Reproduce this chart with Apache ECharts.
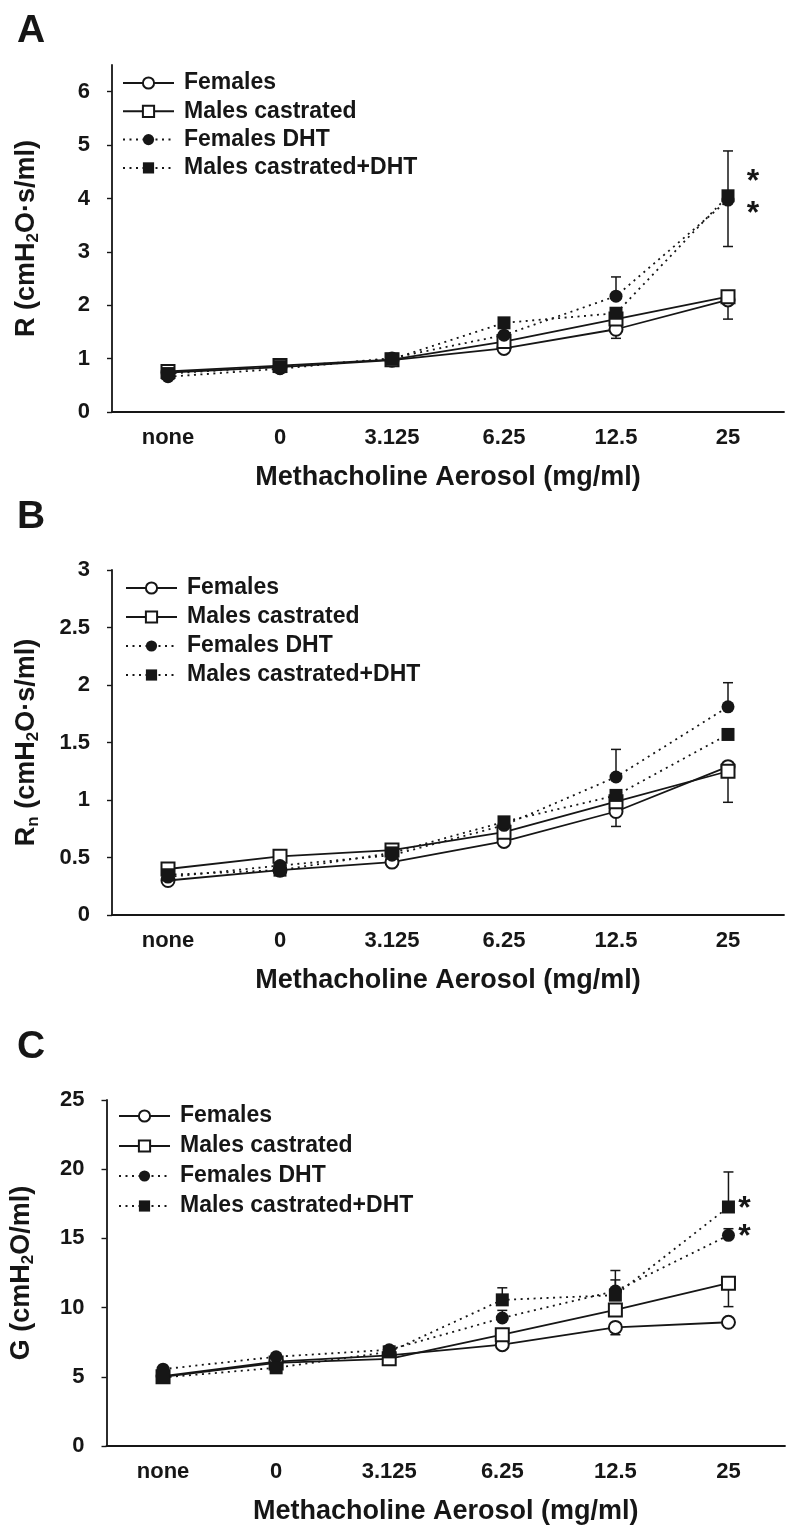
<!DOCTYPE html>
<html><head><meta charset="utf-8">
<script src="https://cdn.jsdelivr.net/npm/echarts@6/dist/echarts.min.js"></script>
<style>html,body{margin:0;padding:0;background:#fff}#c{width:800px;height:1537px}</style>
</head><body><div id="c"></div>
<script>
const categories = ['none', '0', '3.125', '6.25', '12.5', '25'];
const seriesNames = ['Females', 'Males castrated', 'Females DHT', 'Males castrated+DHT'];
const xAxisTitle = 'Methacholine Aerosol (mg/ml)';

// Panel A: R (cmH2O·s/ml)
const A_females = [0.74, 0.84, 0.97, 1.19, 1.55, 2.10];
const A_malesCastrated = [0.76, 0.87, 0.98, 1.32, 1.74, 2.16];
const A_femalesDHT = [0.66, 0.81, 1.01, 1.44, 2.17, 3.97];
const A_malesCastratedDHT = [0.72, 0.85, 0.99, 1.67, 1.85, 4.05];
const A_errorBars = [[4, 1.55, 1.38], [5, 2.16, 1.74], [4, 2.17, 2.53], [5, 4.05, 4.89], [5, 4.05, 3.10]];
const A_asterisks = [[5, 4.44], [5, 3.84]];
const A_yTicks = [0, 1, 2, 3, 4, 5, 6];

// Panel B: Rn (cmH2O·s/ml)
const B_females = [0.30, 0.39, 0.46, 0.64, 0.90, 1.29];
const B_malesCastrated = [0.40, 0.51, 0.565, 0.72, 0.985, 1.25];
const B_femalesDHT = [0.33, 0.43, 0.52, 0.78, 1.20, 1.81];
const B_malesCastratedDHT = [0.35, 0.39, 0.54, 0.81, 1.04, 1.57];
const B_errorBars = [[4, 0.90, 0.77], [4, 1.20, 1.44], [5, 1.81, 2.02], [5, 1.25, 0.98]];
const B_asterisks = [];
const B_yTicks = [0, 0.5, 1, 1.5, 2, 2.5, 3];

// Panel C: G (cmH2O/ml)
const C_females = [5.05, 6.10, 6.55, 7.32, 8.57, 8.94];
const C_malesCastrated = [5.00, 6.00, 6.30, 8.04, 9.83, 11.76];
const C_femalesDHT = [5.55, 6.45, 6.95, 9.25, 11.20, 15.22];
const C_malesCastratedDHT = [4.95, 5.65, 6.80, 10.56, 10.90, 17.27];
const C_errorBars = [[3, 10.56, 11.43], [3, 9.25, 9.80], [4, 11.20, 12.68], [4, 10.90, 12.00], [4, 8.57, 8.04], [5, 11.76, 10.07], [5, 15.22, 15.70], [5, 17.27, 19.80]];
const C_asterisks = [[5, 17.6], [5, 15.6]];
const C_yTicks = [0, 5, 10, 15, 20, 25];

const FONT = '"Liberation Sans", Arial, Helvetica, sans-serif';
const INK = '#161616';

const panels = [
  { label: 'A', yMax: 6.5, yInt: 1, ticks: A_yTicks,
    yName: '{a|R (cmH}{s|2}{a|O·s/ml)}',
    data: [A_females, A_malesCastrated, A_femalesDHT, A_malesCastratedDHT],
    err: A_errorBars, ast: A_asterisks, astDx: 25,
    grid: { left: 112, right: 16, top: 65, height: 347 },
    legend: { left: 117, top: 65, gap: 2.3 }, labelY: 12 },
  { label: 'B', yMax: 3, yInt: 0.5, ticks: B_yTicks,
    yName: '{a|R}{s|n}{a| (cmH}{s|2}{a|O·s/ml)}',
    data: [B_females, B_malesCastrated, B_femalesDHT, B_malesCastratedDHT],
    err: B_errorBars, ast: B_asterisks, astDx: 25,
    grid: { left: 112, right: 16, top: 570, height: 345 },
    legend: { left: 120, top: 570, gap: 3 }, labelY: 498 },
  { label: 'C', yMax: 25, yInt: 5, ticks: C_yTicks,
    yName: '{a|G (cmH}{s|2}{a|O/ml)}',
    data: [C_females, C_malesCastrated, C_femalesDHT, C_malesCastratedDHT],
    err: C_errorBars, ast: C_asterisks, astDx: 16,
    grid: { left: 106, right: 15, top: 1100, height: 346 },
    legend: { left: 113, top: 1098, gap: 4 }, labelY: 1028 }
];

const styles = [
  { symbol: 'emptyCircle', type: 'solid' },
  { symbol: 'emptyRect', type: 'solid' },
  { symbol: 'circle', type: [2, 4.5] },
  { symbol: 'rect', type: [2, 4.5] }
];

const grid = [], xAxis = [], yAxis = [], series = [], legend = [], graphic = [];

panels.forEach((p, i) => {
  grid.push(p.grid);
  xAxis.push({
    type: 'category', gridIndex: i, data: categories, boundaryGap: true,
    axisLine: { lineStyle: { color: INK, width: 1.8 } },
    axisTick: { show: false },
    axisLabel: { interval: 0, fontSize: 22, fontWeight: 'bold', fontFamily: FONT, color: INK, margin: 15 },
    splitLine: { show: false },
    name: xAxisTitle, nameLocation: 'middle', nameGap: 52,
    nameTextStyle: { fontSize: 27, fontWeight: 'bold', fontFamily: FONT, color: INK }
  });
  yAxis.push({
    type: 'value', gridIndex: i, min: 0, max: p.yMax, interval: p.yInt,
    axisLine: { show: true, lineStyle: { color: INK, width: 1.8 } },
    axisTick: { show: true, length: 5, lineStyle: { color: INK, width: 1.4 }, customValues: p.ticks },
    axisLabel: { fontSize: 22, fontWeight: 'bold', fontFamily: FONT, color: INK, margin: 22, customValues: p.ticks },
    splitLine: { show: false },
    name: p.yName, nameLocation: 'middle', nameRotate: 90, nameGap: 70,
    nameTextStyle: {
      rich: {
        a: { fontSize: 27, fontWeight: 'bold', fontFamily: FONT, color: INK, lineHeight: 30 },
        s: { fontSize: 17, fontWeight: 'bold', fontFamily: FONT, color: INK, lineHeight: 14, verticalAlign: 'bottom' }
      }
    }
  });
  legend.push({
    orient: 'vertical', left: p.legend.left, top: p.legend.top,
    itemWidth: 51, itemHeight: 14, itemGap: p.legend.gap, selectedMode: false,
    data: seriesNames,
    textStyle: { fontSize: 23, fontWeight: 'bold', fontFamily: FONT, color: INK, lineHeight: 26, padding: [0, 0, 0, 5] }
  });
  // error bars (one-sided, as visible)
  series.push({
    type: 'custom', xAxisIndex: i, yAxisIndex: i, z: 1, silent: true,
    data: p.err,
    renderItem: (params, api) => {
      const a = api.coord([api.value(0), api.value(1)]);
      const b = api.coord([api.value(0), api.value(2)]);
      const st = { stroke: INK, lineWidth: 1.5 };
      return { type: 'group', children: [
        { type: 'line', shape: { x1: a[0], y1: a[1], x2: b[0], y2: b[1] }, style: st },
        { type: 'line', shape: { x1: b[0] - 5, y1: b[1], x2: b[0] + 5, y2: b[1] }, style: st }
      ] };
    }
  });
  p.data.forEach((d, k) => {
    series.push({
      type: 'line', name: seriesNames[k], xAxisIndex: i, yAxisIndex: i, data: d,
      symbol: styles[k].symbol, symbolSize: 13, showAllSymbol: true, z: 2 + k,
      lineStyle: { color: INK, width: 1.8, type: styles[k].type },
      itemStyle: { color: INK, borderWidth: 1.5 },
      emphasis: { disabled: true }, silent: true
    });
  });
  if (p.ast.length) {
    series.push({
      type: 'custom', xAxisIndex: i, yAxisIndex: i, z: 10, silent: true,
      data: p.ast,
      renderItem: (params, api) => {
        const c = api.coord([api.value(0), api.value(1)]);
        return { type: 'text', x: c[0] + p.astDx, y: c[1] + 7,
          style: { text: '*', fontSize: 32, fontWeight: 'bold', fontFamily: FONT, fill: INK, align: 'center', verticalAlign: 'middle' } };
      }
    });
  }
  graphic.push({ type: 'text', x: 17, y: p.labelY, silent: true,
    style: { text: p.label, fontSize: 39, fontWeight: 'bold', fontFamily: FONT, fill: INK, verticalAlign: 'top' } });
});

const chart = echarts.init(document.getElementById('c'), null, { renderer: 'canvas' });
chart.setOption({ animation: false, backgroundColor: '#fff', grid, xAxis, yAxis, series, legend, graphic });
</script>
</body></html>
